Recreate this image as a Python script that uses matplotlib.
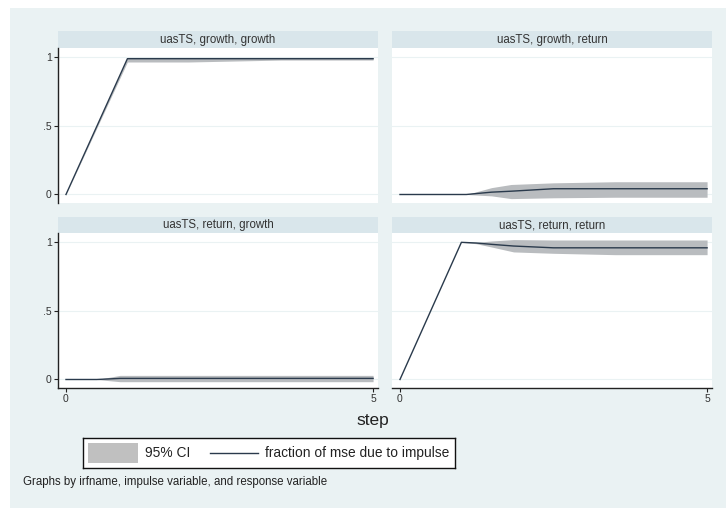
import matplotlib
matplotlib.use("Agg")
import matplotlib.pyplot as plt
from matplotlib.patches import Rectangle

plt.rcParams["font.family"] = ["Liberation Sans", "DejaVu Sans"]

W, H = 726, 508

# fevd by panel: (impulse, response) -> steps, estimate, lower CI, upper CI
titles = ["uasTS, growth, growth", "uasTS, growth, return",
          "uasTS, return, growth", "uasTS, return, return"]

gg_step = [0, 1, 2, 3.5, 5]
gg_fevd = [0, 0.99, 0.99, 0.99, 0.99]
gg_lo = [0, 0.966, 0.966, 0.98, 0.98]
gg_hi = [0, 1.0, 1.0, 1.0, 1.0]

gr_step = [0, 1.08, 1.49, 1.81, 2.5, 3.5, 5]
gr_fevd = [0, 0, 0.017, 0.024, 0.042, 0.042, 0.042]
gr_lo = [0, 0, -0.01, -0.03, -0.024, -0.02, -0.02]
gr_hi = [0, 0, 0.05, 0.073, 0.085, 0.093, 0.093]

rg_step = [0, 0.5, 0.88, 5]
rg_fevd = [0, 0.0, 0.008, 0.008]
rg_lo = [0, 0.0, -0.016, -0.016]
rg_hi = [0, 0.0, 0.03, 0.03]

rr_step = [0, 1, 1.24, 1.5, 1.85, 2.5, 3.5, 5]
rr_fevd = [0, 1.0, 0.995, 0.985, 0.973, 0.96, 0.96, 0.96]
rr_lo = [0, 1.0, 0.99, 0.965, 0.93, 0.92, 0.91, 0.91]
rr_hi = [0, 1.0, 1.0, 1.01, 1.02, 1.017, 1.017, 1.017]

panels = [(gg_step, gg_fevd, gg_lo, gg_hi), (gr_step, gr_fevd, gr_lo, gr_hi),
          (rg_step, rg_fevd, rg_lo, rg_hi), (rr_step, rr_fevd, rr_lo, rr_hi)]

bg = "#eaf2f3"
strip = "#d9e6eb"
band = "#b9bcbf"
navy = "#2a3a4c"


def frac(l, t, r, b):
    return [l / W, 1 - b / H, (r - l) / W, (b - t) / H]


fig = plt.figure(figsize=(W / 100, H / 100), dpi=100)
fig.patch.set_facecolor("white")
fig.patches.append(Rectangle((10 / W, 0), 1, 1 - 8 / H, transform=fig.transFigure,
                             facecolor=bg, edgecolor="none", zorder=-10))

cols = [(58, 378), (392, 712)]
rows = [(31, 48, 203), (217, 233, 388)]

for k, (steps, est, lo, hi) in enumerate(panels):
    r, c = divmod(k, 2)
    l, rt = cols[c]
    st, pt, pb = rows[r]
    # strip title
    sax = fig.add_axes(frac(l, st, rt, pt))
    sax.set_facecolor(strip)
    sax.set_xticks([])
    sax.set_yticks([])
    for s in sax.spines.values():
        s.set_visible(False)
    sax.text(0.5, 0.5, titles[k], ha="center", va="center", fontsize=8.3,
             color="#333333", transform=sax.transAxes)

    ax = fig.add_axes(frac(l, pt, rt, pb))
    ax.set_facecolor("white")
    ax.fill_between(steps, lo, hi, color=band, lw=0, zorder=2)
    ax.plot(steps, est, color=navy, lw=1.0, zorder=3)
    ax.set_xlim(-0.13, 5.08)
    ax.set_ylim(-0.062, 1.068)
    ax.set_yticks([0, 0.5, 1])
    ax.set_xticks([0, 5])
    ax.grid(axis="y", color=bg, lw=0.8, zorder=1)
    ax.set_axisbelow(True)
    for s in ["top", "right"]:
        ax.spines[s].set_visible(False)
    ax.spines["left"].set_visible(c == 0)
    ax.spines["bottom"].set_visible(r == 1)
    for s in ["left", "bottom"]:
        ax.spines[s].set_color("#222222")
        ax.spines[s].set_linewidth(1.0)
    ax.tick_params(length=3, width=0.8, color="#222222", labelsize=7.5,
                   labelcolor="#333333", pad=1.5)
    if c == 0:
        ax.set_yticklabels(["0", ".5", "1"])
    else:
        ax.tick_params(axis="y", left=False, labelleft=False)
    if r == 0:
        ax.tick_params(axis="x", bottom=False, labelbottom=False)

fig.text(373 / W, 1 - 420 / H, "step", ha="center", va="center", fontsize=12.5, color="#222222")

# legend
lax = fig.add_axes(frac(83, 438, 455, 468))
lax.set_xlim(0, 372)
lax.set_ylim(0, 30)
lax.set_xticks([])
lax.set_yticks([])
lax.set_facecolor("white")
for s in lax.spines.values():
    s.set_color("#111111")
    s.set_linewidth(1.0)
lax.add_patch(Rectangle((5, 5), 50, 20, facecolor="#c0c0c0", edgecolor="none"))
lax.text(62, 15, "95% CI", va="center", fontsize=9.9, color="#222222")
lax.plot([127, 175], [15, 15], color=navy, lw=1.0)
lax.text(182, 15, "fraction of mse due to impulse", va="center", fontsize=9.9, color="#222222")

fig.text(23 / W, 1 - 482 / H, "Graphs by irfname, impulse variable, and response variable",
         ha="left", va="center", fontsize=8.3, color="#222222")

fig.savefig("out.png", dpi=100, facecolor=fig.get_facecolor())
